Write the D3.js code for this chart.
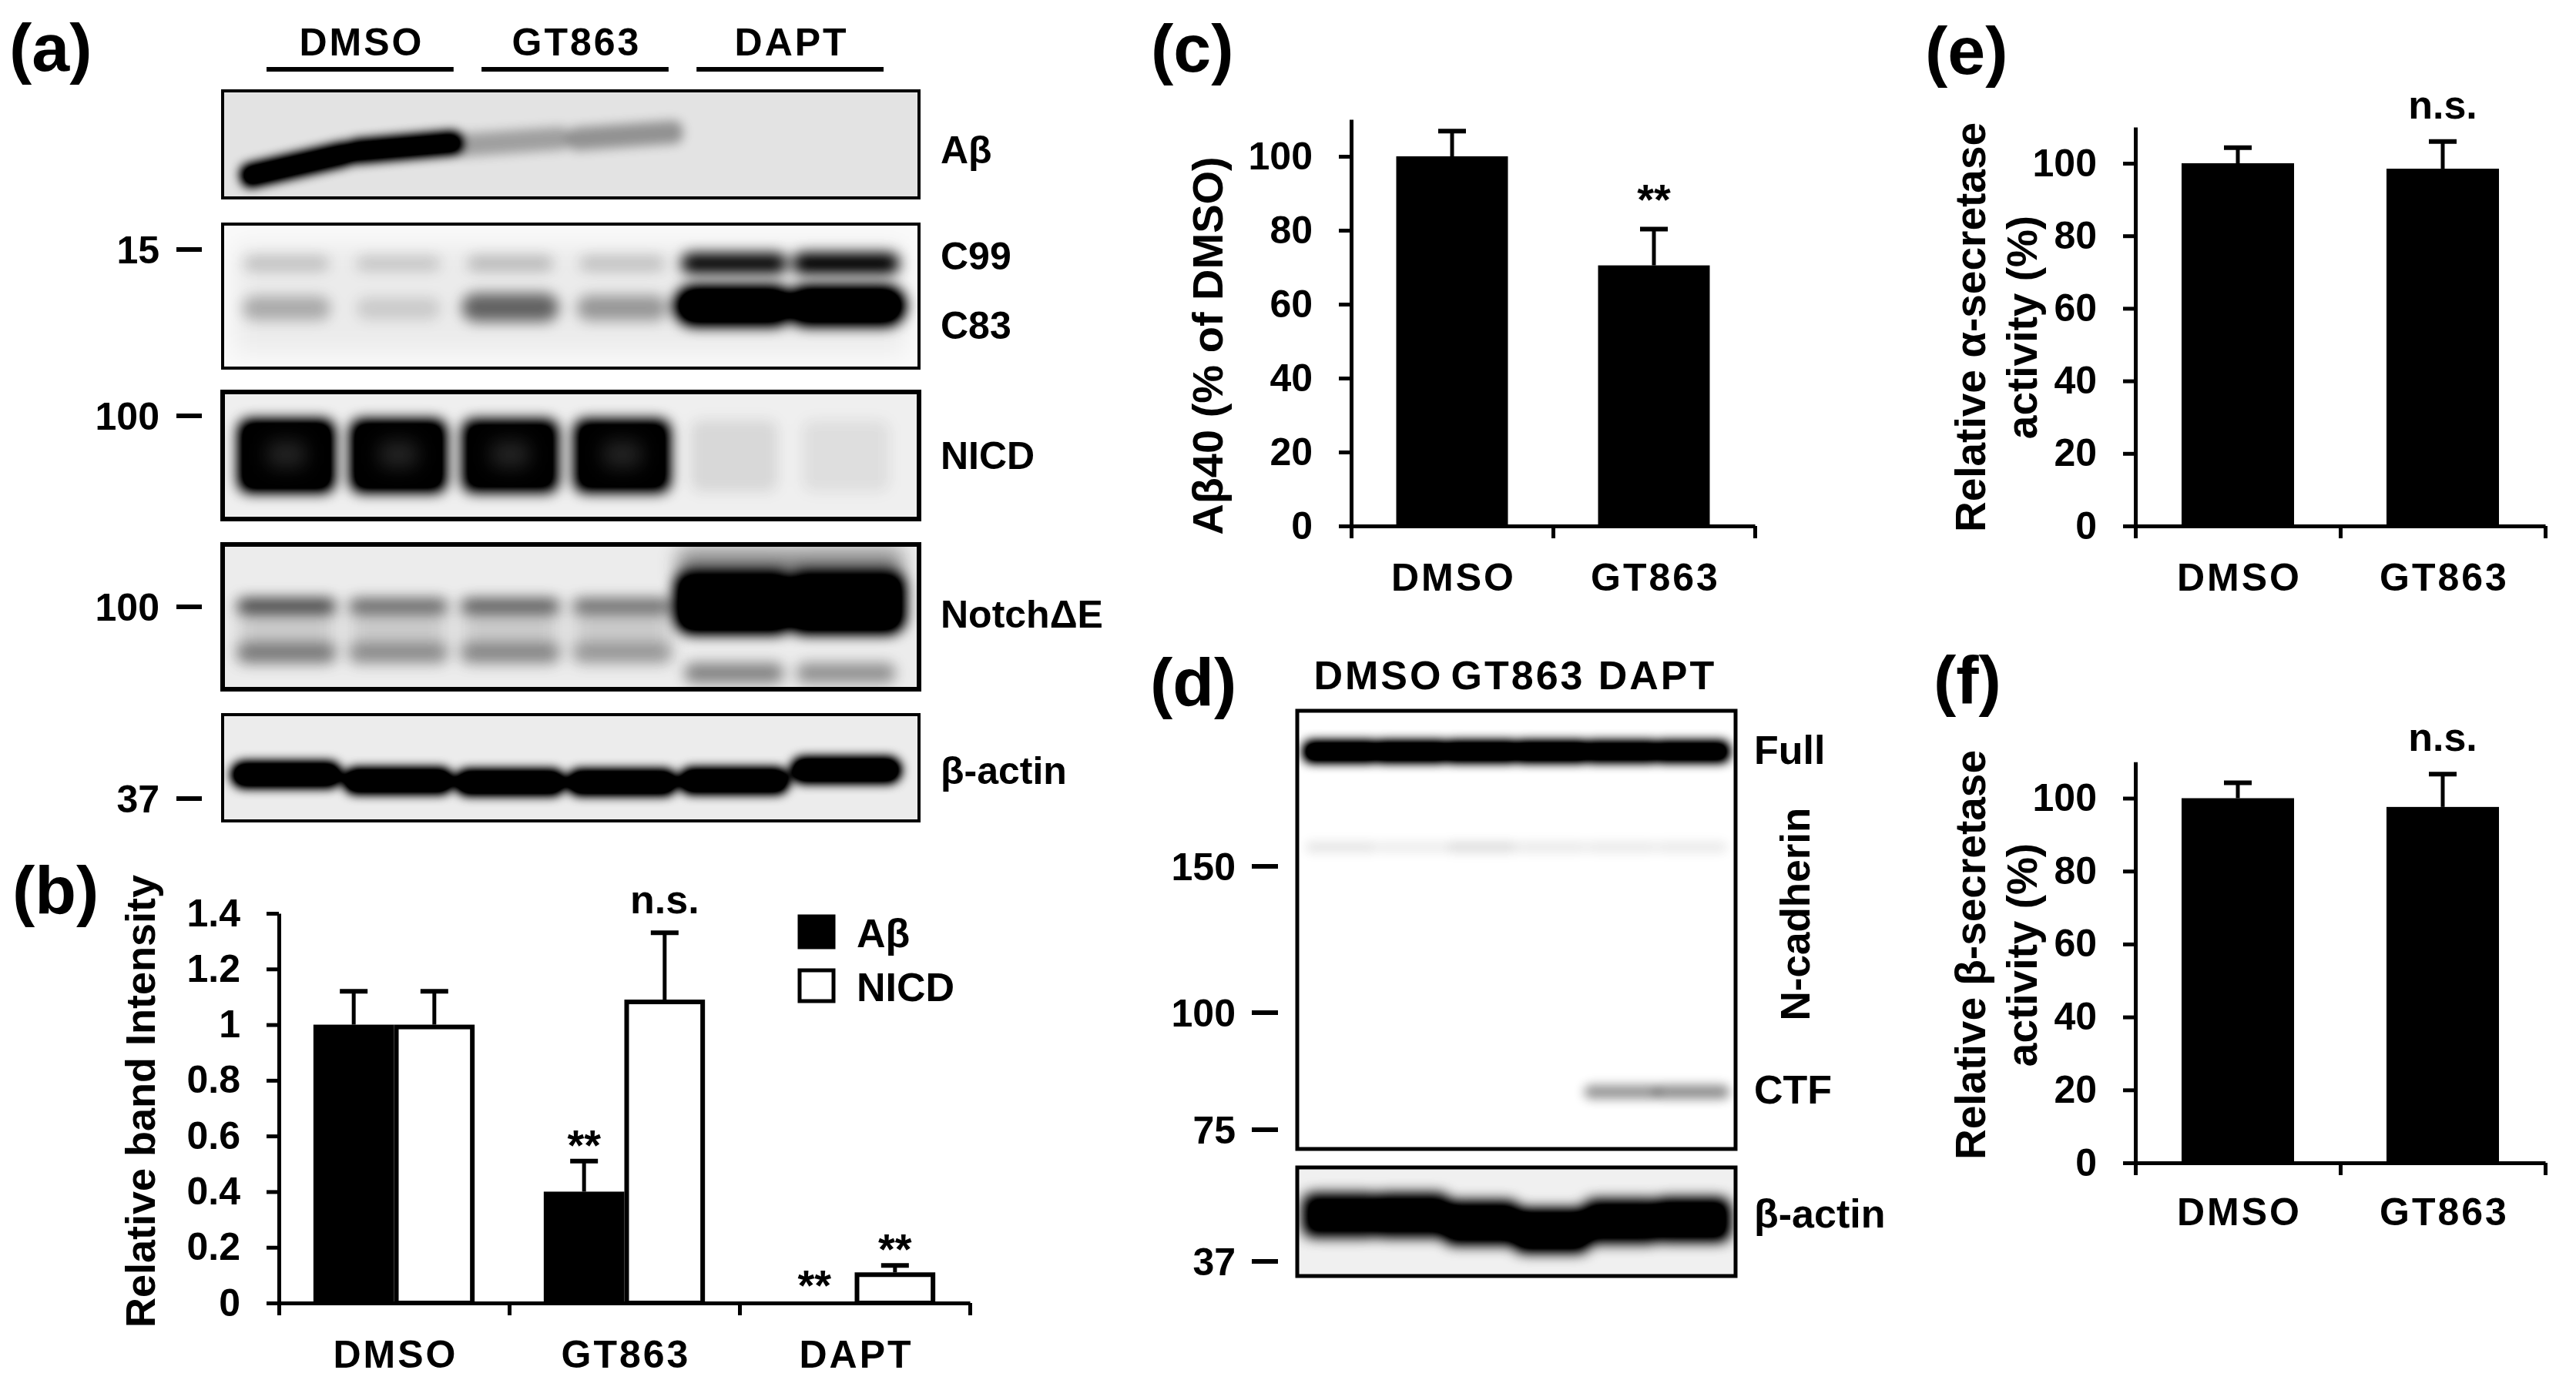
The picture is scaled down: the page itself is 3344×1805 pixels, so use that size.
<!DOCTYPE html>
<html><head><meta charset="utf-8">
<script src="https://cdn.jsdelivr.net/npm/d3@7/dist/d3.min.js"></script>
<style>
html,body{margin:0;padding:0;background:#fff;}
svg text{font-family:"Liberation Sans",Arial,Helvetica,sans-serif;font-weight:bold;fill:#000;}
</style></head><body>
<svg id="fig" width="3344" height="1805" xmlns="http://www.w3.org/2000/svg"></svg>
<script>
// ================= DATA =================
const treatments = ["DMSO","GT863","DAPT"];
const pairCats = ["DMSO","GT863"];
const laneIdx = [0,1,2,3,4,5];
// (a) western blot band intensities (0..1) per lane
const abetaBand = [0.95,0.92,0.2,0.24,0,0];
const c99Band = [0.14,0.12,0.16,0.14,0.72,0.75];
const c83Band = [0.2,0.1,0.42,0.26,1,1];
const nicdBand = [1,0.97,0.9,0.92,0.07,0.05];
const notchUpperBand = [0.5,0.38,0.42,0.36,1,1];
const notchLowerBand = [0.3,0.24,0.26,0.2,0.32,0.28];
const actinBandA = [1,1,1,1,1,1];
const markersA = ["15","100","100","37"];
const labelsA = ["Aβ","C99","C83","NICD","NotchΔE","β-actin"];
// (b) relative band intensity
const bSeries = ["Aβ","NICD"];
const bTicks = [0,0.2,0.4,0.6,0.8,1,1.2,1.4];
const bTickLabels = ["0","0.2","0.4","0.6","0.8","1","1.2","1.4"];
const bAbeta = [1.0,0.40,0.005];
const bAbetaErr = [0.12,0.11,0];
const bNicd = [1.0,1.09,0.11];
const bNicdErr = [0.12,0.24,0.025];
const bAbetaSig = ["","**","**"];
const bNicdSig = ["","n.s.","**"];
// (c) Abeta40 (% of DMSO)
const pctTicks = [0,20,40,60,80,100];
const cValues = [100,70.5];
const cErr = [6.8,9.8];
const cSig = ["","**"];
// (d) N-cadherin blot intensities per lane
const fullBand = [1,1,1,1,0.95,0.95];
const faintBand = [0.07,0.05,0.09,0.06,0.06,0.06];
const ctfBand = [0,0,0,0,0.28,0.3];
const actinBandD = [0.88,0.9,0.95,1,0.92,0.95];
const markersD = ["150","100","75","37"];
// (e) alpha-secretase
const eValues = [100,98.5];
const eErr = [4.3,7.5];
const eSig = ["","n.s."];
// (f) beta-secretase
const fValues = [100,97.6];
const fErr = [4.2,9.0];
const fSig = ["","n.s."];

// ================= DRAWING =================
const svg = d3.select("#fig");
svg.append("rect").attr("width",3344).attr("height",1805).attr("fill","#fff");
const defs = svg.append("defs");
function blurF(id,s,boost){
  const f = defs.append("filter").attr("id",id).attr("filterUnits","userSpaceOnUse")
    .attr("x",0).attr("y",0).attr("width",3344).attr("height",1805);
  f.append("feGaussianBlur").attr("stdDeviation",s).attr("result","bl");
  const ct = f.append("feComponentTransfer").attr("in","bl");
  ct.append("feFuncA").attr("type","linear").attr("slope",boost).attr("intercept",0);
}
blurF("b3",7,1.5); blurF("b5",9,1.4); blurF("b8",12,1.2); blurF("b14",16,1);

function panelLabel(s,x,y){ svg.append("text").attr("x",x).attr("y",y).attr("font-size",88).text(s); }
panelLabel("(a)",12,92); panelLabel("(b)",16,1186); panelLabel("(c)",1494,93);
panelLabel("(d)",1493,916); panelLabel("(e)",2499,96); panelLabel("(f)",2510,913);

let clipN=0;
function blotBox(x0,x1,y0,y1,bg,sw){
  const id="clip"+(clipN++);
  defs.append("clipPath").attr("id",id).append("rect").attr("x",x0).attr("y",y0).attr("width",x1-x0).attr("height",y1-y0);
  const g = svg.append("g");
  g.append("rect").attr("x",x0).attr("y",y0).attr("width",x1-x0).attr("height",y1-y0).attr("fill",bg);
  const inner = g.append("g").attr("clip-path",`url(#${id})`);
  g.append("rect").attr("x",x0).attr("y",y0).attr("width",x1-x0).attr("height",y1-y0)
    .attr("fill","none").attr("stroke","#000").attr("stroke-width",sw);
  return inner;
}
const fn = v => (typeof v === "function") ? v : () => v;
function bands(inner, lane, vals, cy, h, w, filt, rx, color){
  cy=fn(cy); h=fn(h); w=fn(w);
  const rxf = rx===undefined ? (d=>h(d)/2) : fn(rx);
  inner.append("g").attr("filter",`url(#${filt})`)
    .selectAll("rect").data(vals.map((v,i)=>({v,i}))).join("rect")
    .filter(d=>d.v>0)
    .attr("x",d=>lane(d.i)+lane.bandwidth()/2-w(d)/2)
    .attr("y",d=>cy(d)-h(d)/2)
    .attr("width",d=>w(d)).attr("height",d=>h(d))
    .attr("rx",rxf)
    .attr("fill",color||"#000").attr("fill-opacity",d=>d.v);
}
function markerLabel(s,y,numRight,dashX0,dashX1){
  svg.append("text").attr("x",numRight).attr("y",y+18).attr("font-size",50).attr("text-anchor","end").text(s);
  svg.append("line").attr("x1",dashX0).attr("x2",dashX1).attr("y1",y).attr("y2",y).attr("stroke","#000").attr("stroke-width",6);
}

// ---------- Panel (a) ----------
const grpA = d3.scaleBand().domain(treatments).range([346,1147]).paddingInner(0.13);
treatments.forEach(t=>{
  svg.append("text").attr("x",grpA(t)+grpA.bandwidth()/2+2).attr("y",72).attr("font-size",50)
    .attr("letter-spacing",3).attr("text-anchor","middle").text(t);
  svg.append("line").attr("x1",grpA(t)).attr("x2",grpA(t)+grpA.bandwidth()).attr("y1",90).attr("y2",90)
    .attr("stroke","#000").attr("stroke-width",6);
});
const laneA = d3.scaleBand().domain(laneIdx).range([305,1165]).paddingInner(0.08);
const AX0=289, AX1=1193;
// Abeta
let ib = blotBox(AX0,AX1,118,257,"#e3e3e3",4);
const abCy=[214,191,184,176,180,180], abRot=[-13,-5,-4,-4,0,0], abDx=[14,8,2,4,0,0];
ib.append("g").attr("filter","url(#b3)").selectAll("rect").data(abetaBand.map((v,i)=>({v,i}))).join("rect").filter(d=>d.v>0)
  .attr("x",d=>laneA(d.i)+laneA.bandwidth()/2+abDx[d.i]-75).attr("y",d=>abCy[d.i]-15)
  .attr("width",150).attr("height",30).attr("rx",12)
  .attr("transform",d=>`rotate(${abRot[d.i]},${laneA(d.i)+laneA.bandwidth()/2+abDx[d.i]},${abCy[d.i]})`)
  .attr("fill","#000").attr("fill-opacity",d=>d.v);
// C99 / C83
ib = blotBox(AX0,AX1,291,478,"#fafafa",4);
ib.append("rect").attr("x",305).attr("y",318).attr("width",870).attr("height",140).attr("fill","#000").attr("fill-opacity",0.06).attr("filter","url(#b14)");
bands(ib,laneA,c99Band,342,d=>18+12*d.v,d=>105+45*d.v,"b5");
bands(ib,laneA,c83Band,d=>401-4*d.v,d=>26+26*d.v,d=>105+50*d.v,"b5");
// NICD
ib = blotBox(AX0,AX1,509,674,"#efefef",6);
bands(ib,laneA,nicdBand,592,94,d=>d.v>0.5?124:114,"b5",14);
bands(ib,laneA,nicdBand.map(v=>v>0.5?0.12:0),590,34,50,"b8",10,"#fff");
// Notch dE
ib = blotBox(AX0,AX1,707,895,"#ececec",6);
ib.append("g").attr("filter","url(#b8)").selectAll("rect").data([0,1,2,3]).join("rect")
  .attr("x",i=>laneA(i)+laneA.bandwidth()/2-62).attr("y",785).attr("width",124).attr("height",72)
  .attr("fill","#000").attr("fill-opacity",0.12);
bands(ib,laneA,notchUpperBand.map(v=>v>0.9?0.35:0),735,44,146,"b8",8);
bands(ib,laneA,notchUpperBand,d=>d.v>0.9?782:787,d=>d.v>0.9?82:20,d=>d.v>0.9?154:128,"b5",d=>d.v>0.9?22:9);
bands(ib,laneA,notchLowerBand,d=>d.i>3?874:848,26,128,"b5",10);
// beta-actin
ib = blotBox(AX0,AX1,928,1066,"#ececec",4);
const actCy=[1006,1014,1016,1016,1014,1000];
bands(ib,laneA,actinBandA,d=>actCy[d.i],34,144,"b3");
// markers & right labels
[324,540,788,1037].forEach((y,i)=>markerLabel(markersA[i],y,207,229,262));
[194,332,422,591,797,1000].forEach((y,i)=>{
  svg.append("text").attr("x",1221).attr("y",y+18).attr("font-size",50).text(labelsA[i]);
});

// ---------- generic axis styling ----------
function styleAxis(g){
  g.selectAll(".domain").attr("stroke","#000").attr("stroke-width",5);
  g.selectAll(".tick line").attr("stroke","#000").attr("stroke-width",5);
  g.selectAll(".tick text").attr("font-size",50).attr("font-family",null).attr("fill","#000");
  g.attr("font-family",null).attr("font-size",null);
}
function errorBar(g,cx,yTop,yCap){
  g.append("line").attr("x1",cx).attr("x2",cx).attr("y1",yTop).attr("y2",yCap).attr("stroke","#000").attr("stroke-width",5);
  g.append("line").attr("x1",cx-18).attr("x2",cx+18).attr("y1",yCap).attr("y2",yCap).attr("stroke","#000").attr("stroke-width",6);
}

// ---------- Panel (b) ----------
const gb = svg.append("g");
const bx = d3.scaleBand().domain(treatments).range([362,1259]).paddingInner(0.3).paddingOuter(0.15);
const bsub = d3.scaleBand().domain(bSeries).range([0,bx.bandwidth()]);
const by = d3.scaleLinear().domain([0,1.4]).range([1692,1186]);
const bSer = [
  {name:"Aβ", vals:bAbeta, err:bAbetaErr, sig:bAbetaSig, fill:"#000"},
  {name:"NICD", vals:bNicd, err:bNicdErr, sig:bNicdSig, fill:"#fff"}
];
bSer.forEach(s=>{
  treatments.forEach((t,i)=>{
    const x = bx(t)+bsub(s.name), w = bsub.bandwidth(), v = s.vals[i];
    const o = s.fill==="#fff" ? 3 : 0;
    gb.append("rect").attr("x",x+o).attr("y",by(v)+o)
      .attr("width",w-2*o).attr("height",Math.max(0,by(0)-by(v)-o))
      .attr("fill",s.fill).attr("stroke",o?"#000":"none").attr("stroke-width",6);
    const cx = x+w/2;
    const top = by(v+s.err[i]);
    if(s.err[i]>0) errorBar(gb,cx,by(v),top);
    if(s.sig[i]){
      const isStar = s.sig[i]==="**";
      gb.append("text").attr("x",cx).attr("y",isStar? top-2 : top-25).attr("font-size",isStar?56:52)
        .attr("text-anchor","middle").text(s.sig[i]);
    }
  });
});
const bya = gb.append("g").attr("transform","translate(362,0)")
  .call(d3.axisLeft(by).tickValues(bTicks).tickFormat((d,i)=>bTickLabels[i]).tickSize(16).tickPadding(34).tickSizeOuter(0));
styleAxis(bya);
const bxl = d3.scaleLinear().domain([0,treatments.length]).range([362,1259]);
const bxa = gb.append("g").attr("transform","translate(0,1692)")
  .call(d3.axisBottom(bxl).tickValues(d3.range(treatments.length+1)).tickFormat("").tickSize(16).tickSizeOuter(0));
styleAxis(bxa);
treatments.forEach(t=>{
  gb.append("text").attr("x",bx(t)+bx.bandwidth()/2+2).attr("y",1776).attr("font-size",50)
    .attr("letter-spacing",3).attr("text-anchor","middle").text(t);
});
gb.append("text").attr("transform","translate(201,1430) rotate(-90)").attr("font-size",54)
  .attr("text-anchor","middle").text("Relative band Intensity");
// legend
bSer.forEach((s,i)=>{
  gb.append("rect").attr("x",1038).attr("y",1190+i*70).attr("width",44).attr("height",40)
    .attr("fill",s.fill).attr("stroke","#000").attr("stroke-width",5);
  gb.append("text").attr("x",1112).attr("y",1230+i*70).attr("font-size",52).text(s.name);
});

// ---------- single-series bar panels (c, e, f) ----------
function singlePanel(o){
  const g = svg.append("g");
  const x = d3.scaleBand().domain(pairCats).range([o.x0,o.x1]).paddingInner(o.pad).paddingOuter(o.pad/2);
  const y = d3.scaleLinear().domain([0,110]).range([o.yZero,o.yZero-110*o.ppu]);
  pairCats.forEach((c,i)=>{
    const v=o.vals[i];
    g.append("rect").attr("x",x(c)).attr("y",y(v)).attr("width",x.bandwidth()).attr("height",y(0)-y(v)).attr("fill","#000");
    const cx=x(c)+x.bandwidth()/2, top=y(v+o.err[i]);
    errorBar(g,cx,y(v),top);
    if(o.sig[i]){
      const isStar=o.sig[i]==="**";
      g.append("text").attr("x",cx).attr("y",isStar?top-20:top-30).attr("font-size",isStar?56:52)
        .attr("text-anchor","middle").text(o.sig[i]);
    }
  });
  const ya = g.append("g").attr("transform",`translate(${o.x0},0)`)
    .call(d3.axisLeft(y).tickValues(pctTicks).tickSize(16).tickPadding(34).tickSizeOuter(0));
  styleAxis(ya);
  const xl = d3.scaleLinear().domain([0,pairCats.length]).range([o.x0,o.x1]);
  const xa = g.append("g").attr("transform",`translate(0,${o.yZero})`)
    .call(d3.axisBottom(xl).tickValues(d3.range(pairCats.length+1)).tickFormat("").tickSize(16).tickSizeOuter(0));
  styleAxis(xa);
  pairCats.forEach(c=>{
    g.append("text").attr("x",x(c)+x.bandwidth()/2+2).attr("y",o.catY).attr("font-size",50)
      .attr("letter-spacing",3).attr("text-anchor","middle").text(c);
  });
  o.titles.forEach((t,i)=>{
    g.append("text").attr("transform",`translate(${o.titleX[i]},${o.titleY}) rotate(-90)`)
      .attr("font-size",o.titleSize).attr("text-anchor","middle").text(t);
  });
}
singlePanel({x0:1754,x1:2278,pad:0.4466,yZero:683,ppu:4.8,vals:cValues,err:cErr,sig:cSig,catY:767,
  titles:["Aβ40 (% of DMSO)"],titleX:[1587],titleY:449,titleSize:56});
singlePanel({x0:2772,x1:3304,pad:0.451,yZero:683,ppu:4.71,vals:eValues,err:eErr,sig:eSig,catY:767,
  titles:["Relative α-secretase","activity (%)"],titleX:[2577,2644],titleY:425,titleSize:55});
singlePanel({x0:2772,x1:3304,pad:0.451,yZero:1510,ppu:4.735,vals:fValues,err:fErr,sig:fSig,catY:1591,
  titles:["Relative β-secretase","activity (%)"],titleX:[2577,2644],titleY:1240,titleSize:55});

// ---------- Panel (d) ----------
const grpD = d3.scaleBand().domain(treatments).range([1697,2240]);
treatments.forEach(t=>{
  svg.append("text").attr("x",grpD(t)+grpD.bandwidth()/2+2).attr("y",895).attr("font-size",52)
    .attr("letter-spacing",3).attr("text-anchor","middle").text(t);
});
const laneD = d3.scaleBand().domain(laneIdx).range([1697,2240]).paddingInner(0.04);
let id1 = blotBox(1684,2253,923,1492,"#fff",5);
bands(id1,laneD,fullBand,976,28,98,"b3",10);
bands(id1,laneD,faintBand,1100,14,92,"b3");
bands(id1,laneD,ctfBand,1418,18,98,"b3");
let id2 = blotBox(1684,2253,1516,1657,"#f0f0f0",5);
const actDCy=[1578,1578,1588,1598,1586,1584];
bands(id2,laneD,actinBandD,d=>actDCy[d.i],56,100,"b5",14);
[1125,1315,1467,1638].forEach((y,i)=>markerLabel(markersD[i],y,1604,1625,1659));
svg.append("text").attr("x",2277).attr("y",992).attr("font-size",52).text("Full");
svg.append("text").attr("x",2277).attr("y",1433).attr("font-size",52).text("CTF");
svg.append("text").attr("x",2277).attr("y",1594).attr("font-size",52).text("β-actin");
svg.append("text").attr("transform","translate(2349,1187) rotate(-90)").attr("font-size",53)
  .attr("text-anchor","middle").text("N-cadherin");
</script>
</body></html>
